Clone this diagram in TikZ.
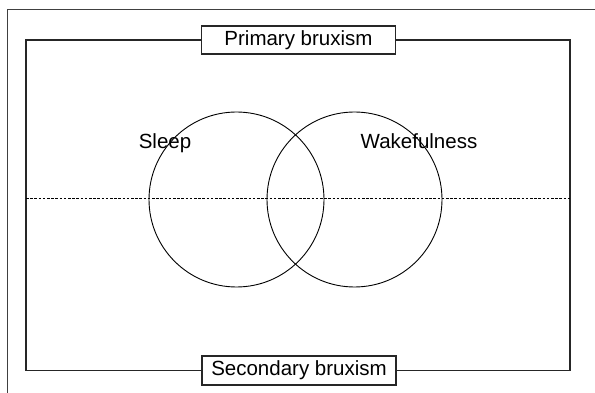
\documentclass[tikz,border=0pt]{standalone}
\usepackage{fontspec}
\setmainfont{Liberation Sans}
\begin{document}
\begin{tikzpicture}[x=1pt,y=-1pt,
  frameline/.style={draw=black!75,line width=0.9pt},
  heavy/.style={draw=black!85,line width=1.9pt},
  labelbox/.style={heavy,fill=white,minimum width=194pt,minimum height=28.5pt,inner sep=0pt,font=\fontsize{20.5}{24}\selectfont},
  venn/.style={circle,draw=black,line width=0.9pt,minimum size=175pt,inner sep=0pt},
  vlabel/.style={anchor=base,inner sep=0pt,font=\fontsize{20.5}{24}\selectfont},
  midline/.style={draw=black,line width=0.9pt,dash pattern=on 2.6pt off 1.6pt}]
\useasboundingbox (0,0) rectangle (595,393);
% outer frame (clipped by page)
\coordinate (fa) at (7,393);
\coordinate (fb) at (7,9);
\coordinate (fc) at (595,9);
\draw[frameline] (fa) -- (fb) -- (fc);
% circles
\node[venn] (sleep) at (236.5,199.5) {};
\node[venn] (wake) at (354.5,199.5) {};
\node[vlabel] (sleeplbl) at (165,149) {Sleep};
\node[vlabel] (wakelbl) at (419,149) {Wakefulness};
% label boxes
\node[labelbox] (prim) at (298.5,40) {Primary bruxism};
\node[labelbox] (sec) at (299,370.5) {Secondary bruxism};
% main frame
\coordinate (tl) at (26,40);
\coordinate (tr) at (570,40);
\draw[heavy,line cap=rect] (prim.west) -- (tl) |- (sec.west);
\draw[heavy,line cap=rect] (prim.east) -- (tr) |- (sec.east);
% dashed line
\coordinate (dl) at (26,198);
\coordinate (dr) at (570,198);
\draw[midline] (dl) -- (dr);
\end{tikzpicture}
\end{document}
